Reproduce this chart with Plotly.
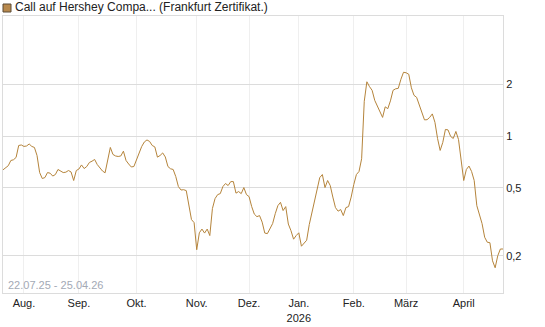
import pandas as pd
import plotly.graph_objects as go

# --- data -------------------------------------------------------------
start_date = "2025-07-22"
end_date = "2026-04-24"
holidays = ["2025-12-24", "2025-12-25", "2025-12-26", "2025-12-31",
            "2026-01-01", "2026-04-03", "2026-04-06"]

prices = [
    0.636, 0.656, 0.672, 0.721, 0.728, 0.751, 0.882, 0.888, 0.871, 0.876,
    0.900, 0.871, 0.859, 0.771, 0.613, 0.566, 0.573, 0.613, 0.608, 0.585,
    0.597, 0.639, 0.622, 0.613, 0.616, 0.630, 0.618, 0.551, 0.630, 0.643,
    0.679, 0.647, 0.665, 0.702, 0.714, 0.731, 0.683, 0.652, 0.626, 0.611,
    0.741, 0.859, 0.782, 0.766, 0.761, 0.766, 0.817, 0.721, 0.688, 0.661,
    0.665, 0.731, 0.798, 0.871, 0.925, 0.950, 0.931, 0.882, 0.865, 0.754,
    0.771, 0.798, 0.756, 0.665, 0.645, 0.639, 0.581, 0.508, 0.485, 0.487,
    0.481, 0.404, 0.326, 0.313, 0.2175, 0.273, 0.287, 0.272, 0.287, 0.263,
    0.378, 0.432, 0.456, 0.462, 0.508, 0.529, 0.515, 0.543, 0.543, 0.465,
    0.475, 0.462, 0.501, 0.456, 0.444, 0.388, 0.351, 0.339, 0.344, 0.315,
    0.272, 0.270, 0.290, 0.309, 0.353, 0.393, 0.411, 0.368, 0.388, 0.307,
    0.281, 0.2505, 0.263, 0.273, 0.228, 0.239, 0.247, 0.305, 0.358, 0.415,
    0.501, 0.573, 0.597, 0.501, 0.551, 0.515, 0.441, 0.383, 0.365, 0.373,
    0.344, 0.383, 0.388, 0.441, 0.522, 0.597, 0.622, 0.738, 1.596, 2.075,
    1.945, 1.850, 1.617, 1.492, 1.376, 1.286, 1.482, 1.446, 1.606, 1.850,
    1.888, 1.901, 2.146, 2.358, 2.342, 2.295, 1.914, 1.730, 1.684, 1.532,
    1.376, 1.244, 1.247, 1.286, 1.348, 1.203, 0.969, 0.825, 0.919, 1.094,
    1.087, 0.996, 0.969, 1.065, 0.956, 0.711, 0.551, 0.639, 0.669, 0.622,
    0.551, 0.393, 0.353, 0.309, 0.257, 0.2405, 0.239, 0.1875, 0.1707, 0.2006,
    0.2196, 0.2196,
]

month_ticks = ["2025-08-01", "2025-09-01", "2025-10-01", "2025-11-03",
               "2025-12-01", "2026-01-02", "2026-02-02", "2026-03-02",
               "2026-04-01"]
month_labels = ["Aug.", "Sep.", "Okt.", "Nov.", "Dez.", "Jan.<br>2026",
                "Feb.", "März", "April"]

y_ticks = [0.2, 0.5, 1, 2]
y_labels = ["0,2", "0,5", "1", "2"]

legend_text = "Call auf Hershey Compa... (Frankfurt Zertifikat.)"
range_text = "22.07.25 - 25.04.26"

# --- figure -----------------------------------------------------------
dates = [d for d in pd.bdate_range(start_date, end_date)
         if d.strftime("%Y-%m-%d") not in holidays]
dates = [d.strftime("%Y-%m-%d") for d in dates]

LINE = "#b5843b"
FONT = "Arial, Liberation Sans, sans-serif"

fig = go.Figure()
fig.add_trace(go.Scatter(
    x=dates, y=prices, mode="lines",
    line=dict(color=LINE, width=1),
    hoverinfo="x+y", showlegend=False,
))

fig.update_layout(
    width=545, height=327,
    margin=dict(l=3, r=42, t=16, b=34),
    paper_bgcolor="white", plot_bgcolor="white",
    font=dict(family=FONT, size=11, color="#222"),
    showlegend=False,
    xaxis=dict(
        type="date",
        range=[start_date, end_date],
        rangebreaks=[dict(bounds=["sat", "mon"]), dict(values=holidays)],
        tickmode="array", tickvals=month_ticks, ticktext=month_labels,
        showgrid=True, gridcolor="#efefef", gridwidth=1,
        showline=True, linecolor="#dcdcdc", linewidth=1, mirror=True,
        ticks="", zeroline=False,
        tickfont=dict(family=FONT, size=11, color="#222"),
    ),
    yaxis=dict(
        type="log",
        range=[-0.915, 0.7007],
        side="right",
        tickmode="array", tickvals=y_ticks, ticktext=y_labels,
        showgrid=True, gridcolor="#dcdcdc", gridwidth=1,
        showline=True, linecolor="#dcdcdc", linewidth=1, mirror=True,
        ticks="", zeroline=False,
        tickfont=dict(family=FONT, size=11, color="#222"),
    ),
    shapes=[dict(
        type="rect", xref="paper", yref="paper",
        xsizemode="pixel", ysizemode="pixel",
        xanchor=0, yanchor=1,
        x0=0, x1=8, y0=4, y1=12,
        fillcolor="#b8894d", line=dict(color="#5a4a36", width=1),
    )],
    annotations=[
        dict(text=legend_text, xref="paper", yref="paper", x=0, y=1,
             xanchor="left", yanchor="bottom", xshift=10, yshift=0,
             showarrow=False, font=dict(family=FONT, size=12, color="#222")),
        dict(text=range_text, xref="paper", yref="paper", x=0, y=0,
             xanchor="left", yanchor="bottom", xshift=3, yshift=0,
             showarrow=False, font=dict(family=FONT, size=11, color="#a3a9b5")),
    ],
)

fig.write_html("out.html")
